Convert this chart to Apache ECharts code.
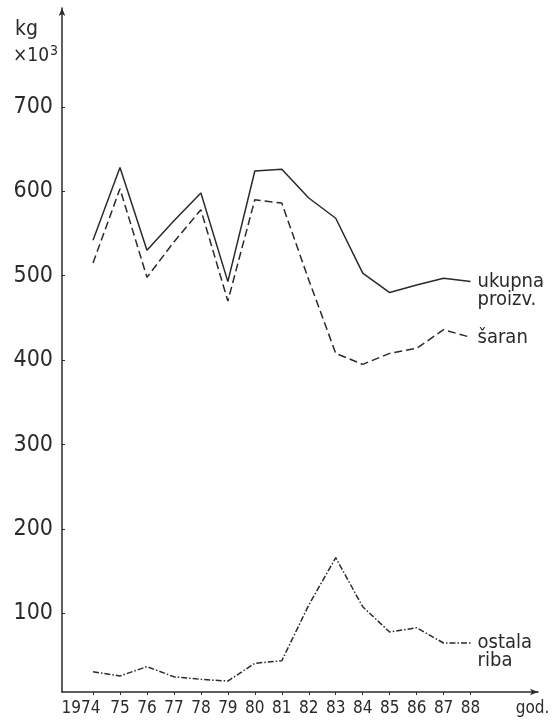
<!DOCTYPE html>
<html>
<head>
<meta charset="utf-8">
<script src="https://cdn.jsdelivr.net/npm/echarts@6/dist/echarts.min.js"></script>
<style>
html,body{margin:0;padding:0;background:#fff;}
#c{width:559px;height:721px;}
</style>
</head>
<body>
<div id="c"></div>
<script>
const years = [1974,1975,1976,1977,1978,1979,1980,1981,1982,1983,1984,1985,1986,1987,1988];
const ukupna = [542,628,530,565,598,493,624,626,592,568,503,480,489,497,493];
const saran  = [515,603,498,540,578,470,590,586,495,408,395,408,414,436,427];
const ostala = [31,26,37,25,22,20,41,44,110,166,108,78,83,65,65];
const yTickLabels = [100,200,300,400,500,600,700];
const unitLabel = 'god.';
const seriesNames = ['ukupna\nproizv.', 'šaran', 'ostala\nriba'];

const FONT = "'Liberation Sans Narrow','DejaVu Sans Condensed','Noto Sans',sans-serif";
const INK = '#2a2a2a';

function pairs(vals){ return years.map((y,i)=>[y, vals[i]]); }

const chart = echarts.init(document.getElementById('c'), null, {renderer:'canvas'});
const endLbl = (txt, off) => ({
  show:true, formatter: txt, distance:7, color:INK, fontFamily:FONT, fontSize:20,
  lineHeight:18, offset:[0, off], align:'left'
});
chart.setOption({
  backgroundColor:'#fff',
  animation:false,
  grid:{left:62, right:21, top:8, bottom:29, containLabel:false},
  graphic:[
    {type:'text', left:15, top:19, style:{text:'kg', font:"21px " + FONT, fill:INK}},
    {type:'text', left:13, top:44, style:{
      text:'{a|×10}{b|3}', fill:INK,
      rich:{a:{fontFamily:FONT, fontSize:19, fill:INK, verticalAlign:'bottom'},
            b:{fontFamily:FONT, fontSize:14, fill:INK, verticalAlign:'top', padding:[0,0,8,1]}}
    }}
  ],
  xAxis:{
    type:'value', min:1972.85, max:1990.5,
    splitLine:{show:false},
    axisLine:{show:true, lineStyle:{color:INK, width:1.5}, symbol:['none','arrow'], symbolSize:[5,8]},
    axisTick:{show:true, customValues:years, length:3, lineStyle:{color:INK}},
    axisLabel:{
      customValues: [1972.9].concat(years, [1990.3]),
      hideOverlap:false,
      formatter: v => v < 1973.5 ? '' : (v > 1989 ? unitLabel : (Math.round(v) === 1974 ? '{f|1974}' : String(Math.round(v)).slice(2))),
      rich:{f:{color:INK, fontFamily:FONT, fontSize:17, padding:[0,24,0,0]}},
      color:INK, fontFamily:FONT, fontSize:17, margin:8
    }
  },
  yAxis:{
    type:'value', min:7, max:817,
    splitLine:{show:false},
    axisLine:{show:true, lineStyle:{color:INK, width:1.5}, symbol:['none','arrow'], symbolSize:[5,8]},
    axisTick:{show:true, customValues:yTickLabels, inside:true, length:3, lineStyle:{color:INK}},
    axisLabel:{customValues:yTickLabels, color:INK, fontFamily:FONT, fontSize:23, margin:9}
  },
  series:[
    {type:'line', data:pairs(ukupna), symbol:'none', lineStyle:{color:INK, width:1.5, type:'solid'},
     endLabel:endLbl(seriesNames[0], 9)},
    {type:'line', data:pairs(saran), symbol:'none', lineStyle:{color:INK, width:1.5, type:[8,4]},
     endLabel:endLbl(seriesNames[1], 0)},
    {type:'line', data:pairs(ostala), symbol:'none', lineStyle:{color:INK, width:1.5, type:[6,2,1.5,2]},
     endLabel:endLbl(seriesNames[2], 9)}
  ]
});
</script>
</body>
</html>
